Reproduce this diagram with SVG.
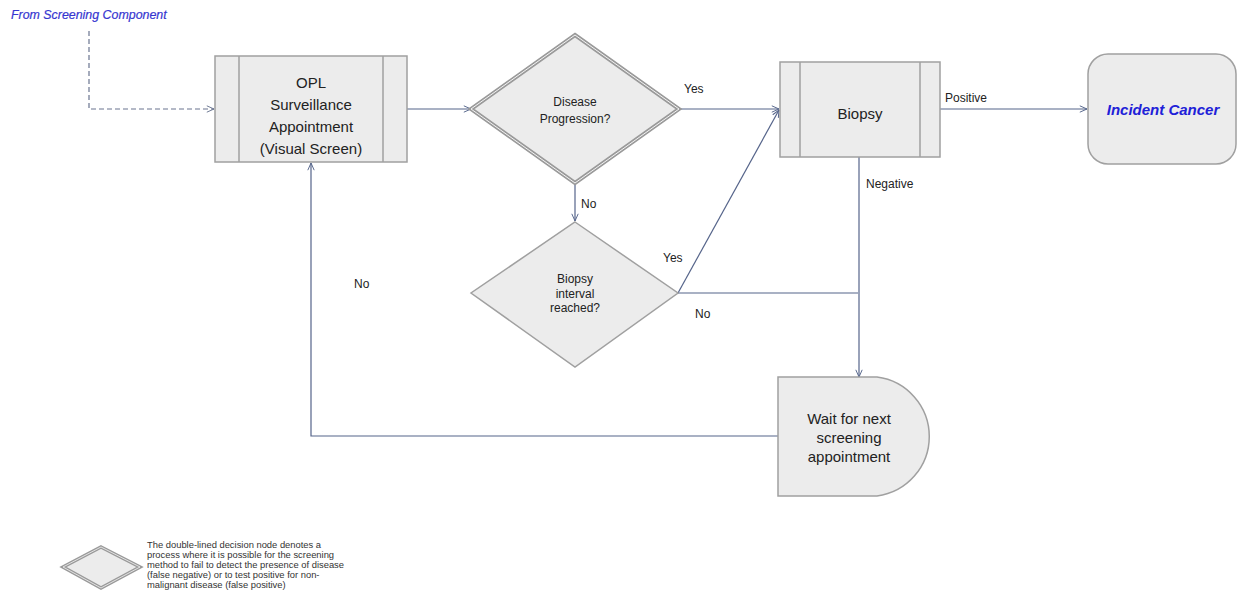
<svg xmlns="http://www.w3.org/2000/svg" width="1237" height="596" viewBox="0 0 1237 596">
  <style>
    .node { fill: #ececec; stroke: #a0a0a0; stroke-width: 1.5; }
    .divider { stroke: #a0a0a0; stroke-width: 1.5; }
    .lbl { font-family: "Liberation Sans", Arial, sans-serif; font-size: 15px; fill: #222; text-anchor: middle; }
    .small { font-family: "Liberation Sans", Arial, sans-serif; font-size: 12px; fill: #222; text-anchor: middle; }
    .edge-lbl { font-family: "Liberation Sans", Arial, sans-serif; font-size: 12px; fill: #222; }
    .wire { fill: none; stroke: #55648a; stroke-width: 1.2; }
    .dashed { fill: none; stroke: #6a7590; stroke-width: 1.2; stroke-dasharray: 5 3; }
    .note { font-family: "Liberation Sans", Arial, sans-serif; font-size: 9.4px; fill: #333; }
  </style>
  <defs>
    <marker id="open" viewBox="0 0 10 10" refX="10" refY="5" markerWidth="8" markerHeight="8" orient="auto" markerUnits="userSpaceOnUse">
      <path d="M1,1 L10,5 L1,9" fill="none" stroke="#55648a" stroke-width="1.2"/>
    </marker>
    <marker id="openDash" viewBox="0 0 10 10" refX="10" refY="5" markerWidth="8" markerHeight="8" orient="auto" markerUnits="userSpaceOnUse">
      <path d="M1,1 L10,5 L1,9" fill="none" stroke="#6a7590" stroke-width="1.2"/>
    </marker>
  </defs>

  <rect width="1237" height="596" fill="#ffffff"/>

  <!-- entry from the screening component -->
  <g id="entry">
    <text x="11" y="19" font-family="'Liberation Sans', Arial, sans-serif" font-size="12.4" font-style="italic" fill="#3535d0" stroke="#3535d0" stroke-width="0.2">From Screening Component</text>
  </g>

  <g id="connectors">
    <path class="dashed" d="M89,31 V109 H214" marker-end="url(#openDash)"/>
    <path class="wire" d="M407,109 H471" marker-end="url(#open)"/>
    <path class="wire" d="M679,109 H779" marker-end="url(#open)"/>
    <path class="wire" d="M940,109 H1087" marker-end="url(#open)"/>
    <path class="wire" d="M575,183 V221" marker-end="url(#open)"/>
    <path class="wire" d="M678,293 L779,110" marker-end="url(#open)"/>
    <path class="wire" d="M678,293 H858"/>
    <path class="wire" d="M859,157 V377" marker-end="url(#open)"/>
    <path class="wire" d="M778,436 H311 V163" marker-end="url(#open)"/>
  </g>

  <g id="edge-labels">
    <text class="edge-lbl" x="684" y="93">Yes</text>
    <text class="edge-lbl" x="945" y="102">Positive</text>
    <text class="edge-lbl" x="866" y="188">Negative</text>
    <text class="edge-lbl" x="581" y="208">No</text>
    <text class="edge-lbl" x="663" y="262">Yes</text>
    <text class="edge-lbl" x="695" y="318">No</text>
    <text class="edge-lbl" x="354" y="288">No</text>
  </g>

  <g id="opl-appointment">
    <rect class="node" x="215" y="56" width="192" height="106"/>
    <line class="divider" x1="239" y1="56" x2="239" y2="162"/>
    <line class="divider" x1="383" y1="56" x2="383" y2="162"/>
    <text class="lbl" x="311" y="88">OPL</text>
    <text class="lbl" x="311" y="110">Surveillance</text>
    <text class="lbl" x="311" y="132">Appointment</text>
    <text class="lbl" x="311" y="154">(Visual Screen)</text>
  </g>

  <g id="disease-progression">
    <polygon points="575,35 679,109 575,183 471,109" fill="#ececec" stroke="#9a9a9a" stroke-width="4"/>
    <polygon points="575,35 679,109 575,183 471,109" fill="none" stroke="#f4f4f4" stroke-width="1"/>
    <text class="small" x="575" y="106">Disease</text>
    <text class="small" x="575" y="123">Progression?</text>
  </g>

  <g id="biopsy">
    <rect class="node" x="780" y="62" width="160" height="95"/>
    <line class="divider" x1="800" y1="62" x2="800" y2="157"/>
    <line class="divider" x1="920" y1="62" x2="920" y2="157"/>
    <text class="lbl" x="860" y="119">Biopsy</text>
  </g>

  <g id="incident-cancer">
    <rect class="node" x="1088" y="54" width="148" height="110" rx="20" ry="20"/>
    <text x="1163" y="115" font-family="'Liberation Sans', Arial, sans-serif" font-size="15" font-weight="bold" font-style="italic" fill="#2020d8" text-anchor="middle">Incident Cancer</text>
  </g>

  <g id="biopsy-interval">
    <polygon class="node" points="575,222 678,293 575,367 471,293"/>
    <text class="small" x="575" y="283">Biopsy</text>
    <text class="small" x="575" y="298">interval</text>
    <text class="small" x="575" y="312">reached?</text>
  </g>

  <g id="wait-next">
    <path class="node" d="M778,377 H877 A60,60 0 0 1 877,496 H778 Z"/>
    <text class="lbl" x="849" y="424">Wait for next</text>
    <text class="lbl" x="849" y="443">screening</text>
    <text class="lbl" x="849" y="462">appointment</text>
  </g>

  <g id="legend">
    <polygon points="101,547 140,567 101,588 63,567" fill="#ececec" stroke="#9a9a9a" stroke-width="3.5"/>
    <polygon points="101,547 140,567 101,588 63,567" fill="none" stroke="#f4f4f4" stroke-width="0.8"/>
    <text class="note" x="147" y="548">The double-lined decision node denotes a</text>
    <text class="note" x="147" y="558">process where it is possible for the screening</text>
    <text class="note" x="147" y="568">method to fail to detect the presence of disease</text>
    <text class="note" x="147" y="578">(false negative) or to test positive for non-</text>
    <text class="note" x="147" y="588">malignant disease (false positive)</text>
  </g>
</svg>
